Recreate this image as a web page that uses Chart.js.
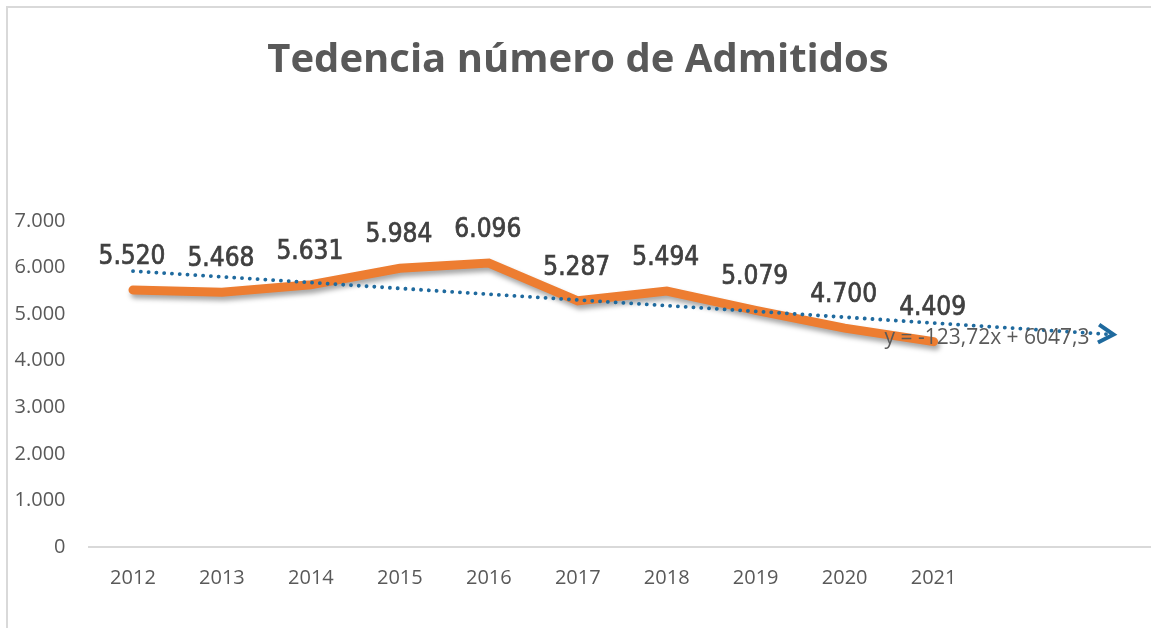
<!DOCTYPE html>
<html>
<head>
<meta charset="utf-8">
<script src="https://cdn.jsdelivr.net/npm/chart.js@4.4.1/dist/chart.umd.min.js"></script>
<style>
  html, body { margin: 0; padding: 0; background: #fff; overflow: hidden; }
  #wrap { position: relative; width: 1151px; height: 628px; overflow: hidden; }
  #frame { position: absolute; left: 6px; top: 6px; width: 1200px; height: 700px;
           border-left: 2px solid #d9d9d9; border-top: 2px solid #d9d9d9; pointer-events: none; }
  canvas { position: absolute; left: 0; top: 0; }
</style>
</head>
<body>
<div id="wrap">
  <canvas id="chart" width="1160" height="628"></canvas>
  <div id="frame"></div>
</div>
<script>
// data
const years = ['2012', '2013', '2014', '2015', '2016', '2017', '2018', '2019', '2020', '2021'];
const forecastSlots = ['', ''];            // trendline forecast of 2 periods
const admitidos = [5520, 5468, 5631, 5984, 6096, 5287, 5494, 5079, 4700, 4409];
const trendValues = [5924, null, null, null, null, null, null, null, null, null, null, 4563];
const trendText = 'y = -123,72x + 6047,3';
const yTicks = [0, 1000, 2000, 3000, 4000, 5000, 6000, 7000];

const ORANGE = '#ED7D31';
const BLUE = '#1F6A9E';

const fmt = v => v.toLocaleString('de-DE');

const lineShadow = {
  id: 'lineShadow',
  beforeDatasetDraw(chart, args) {
    if (args.index !== 0) return;
    const ctx = chart.ctx;
    ctx.save();
    ctx.shadowColor = 'rgba(0,0,0,0.35)';
    ctx.shadowBlur = 5;
    ctx.shadowOffsetX = 2;
    ctx.shadowOffsetY = 4;
  },
  afterDatasetDraw(chart, args) {
    if (args.index !== 0) return;
    chart.ctx.restore();
  }
};

const extras = {
  id: 'extras',
  afterDatasetsDraw(chart) {
    const ctx = chart.ctx;
    // arrow at the end of the trendline
    const tm = chart.getDatasetMeta(1).data;
    const p0 = tm[0], p1 = tm[tm.length - 1];
    const ang = Math.atan2(p1.y - p0.y, p1.x - p0.x);
    ctx.save();
    ctx.strokeStyle = BLUE;
    ctx.lineWidth = 4;
    ctx.lineJoin = 'miter';
    ctx.translate(p1.x + 2, p1.y);
    ctx.rotate(ang);
    ctx.beginPath();
    ctx.moveTo(-15, -9);
    ctx.lineTo(0, 0);
    ctx.lineTo(-15, 9);
    ctx.stroke();
    ctx.restore();

    // trendline equation
    ctx.save();
    ctx.font = '21px "Open Sans"';
    ctx.fillStyle = '#595959';
    ctx.textAlign = 'right';
    ctx.textBaseline = 'middle';
    ctx.fillText(trendText, p1.x - 22, p1.y + 4);
    ctx.restore();

    // data labels
    const meta = chart.getDatasetMeta(0).data;
    ctx.save();
    ctx.font = '26px "DejaVu Sans Condensed"';
    ctx.fillStyle = '#404040';
    ctx.strokeStyle = '#404040';
    ctx.lineWidth = 0.7;
    ctx.textAlign = 'center';
    ctx.textBaseline = 'middle';
    admitidos.forEach((v, i) => {
      const pt = meta[i];
      ctx.fillText(fmt(v), pt.x - 1, pt.y - 33);
      ctx.strokeText(fmt(v), pt.x - 1, pt.y - 33);
    });
    ctx.restore();
  }
};

new Chart(document.getElementById('chart'), {
  type: 'line',
  data: {
    labels: years.concat(forecastSlots),
    datasets: [{
      data: admitidos,
      borderColor: ORANGE,
      borderWidth: 9,
      borderCapStyle: 'round',
      pointRadius: 0,
      tension: 0,
      order: 1
    }, {
      data: trendValues,
      borderColor: BLUE,
      borderWidth: 3.8,
      borderCapStyle: 'round',
      borderDash: [0.1, 7.7],
      spanGaps: true,
      pointRadius: 0,
      order: 0
    }]
  },
  options: {
    responsive: false,
    animation: false,
    layout: { padding: { left: 0, right: 4, top: 0, bottom: 0 } },
    plugins: {
      legend: { display: false },
      tooltip: { enabled: false },
      title: {
        display: true,
        text: 'Tedencia número de Admitidos',
        color: '#595959',
        font: { family: 'Open Sans', size: 40, weight: 'bold' },
        padding: { top: 37, bottom: 136 }
      }
    },
    scales: {
      x: {
        offset: true,
        grid: { display: false, drawTicks: false },
        border: { display: true, color: '#d9d9d9', width: 2 },
        ticks: {
          color: '#595959',
          font: { family: 'Open Sans', size: 20 },
          padding: 19,
          maxRotation: 0,
          autoSkip: false
        },
        afterFit(s) { s.height = 81; }
      },
      y: {
        min: 0,
        max: 7000,
        afterBuildTicks(s) { s.ticks = yTicks.map(v => ({ value: v })); },
        grid: { display: false, drawTicks: false },
        border: { display: false },
        ticks: {
          color: '#595959',
          font: { family: 'Open Sans', size: 20 },
          padding: 23,
          callback: v => fmt(v)
        },
        afterFit(s) { s.width = 88.5; }
      }
    }
  },
  plugins: [lineShadow, extras]
});
</script>
</body>
</html>
